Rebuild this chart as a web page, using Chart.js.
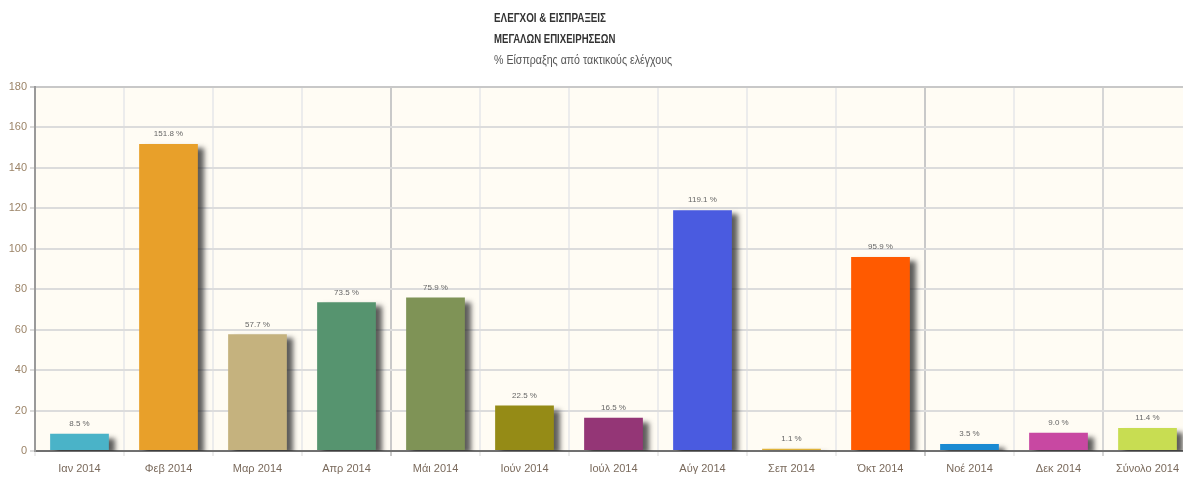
<!DOCTYPE html>
<html>
<head>
<meta charset="utf-8">
<script src="https://cdn.jsdelivr.net/npm/chart.js@4"></script>
<style>
  html,body{margin:0;padding:0;background:#ffffff;overflow:hidden;}
  #wrap{position:relative;width:1192px;height:479px;}
  .t{position:absolute;left:494px;font-family:'Liberation Sans',Arial,sans-serif;white-space:nowrap;transform-origin:0 0;}
  .t1{top:11px;font-size:12px;font-weight:bold;color:#333;transform:scaleX(0.82);}
  .t2{top:32px;font-size:12px;font-weight:bold;color:#333;transform:scaleX(0.80);}
  .t3{top:53px;font-size:12px;color:#555;transform:scaleX(0.885);}
</style>
</head>
<body>
<div id="wrap">
  <div class="t t1">ΕΛΕΓΧΟΙ &amp; ΕΙΣΠΡΑΞΕΙΣ</div>
  <div class="t t2">ΜΕΓΑΛΩΝ ΕΠΙΧΕΙΡΗΣΕΩΝ</div>
  <div class="t t3">% Είσπραξης από τακτικούς ελέγχους</div>
  <canvas id="c" width="1192" height="479"></canvas>
</div>
<script>
const categories = ['Ιαν 2014','Φεβ 2014','Μαρ 2014','Απρ 2014','Μάι 2014','Ιούν 2014','Ιούλ 2014','Αύγ 2014','Σεπ 2014','Όκτ 2014','Νοέ 2014','Δεκ 2014','Σύνολο 2014'];
const values = [8.5, 151.8, 57.7, 73.5, 75.9, 22.5, 16.5, 119.1, 1.1, 95.9, 3.5, 9.0, 11.4];
const valueLabels = ['8.5 %','151.8 %','57.7 %','73.5 %','75.9 %','22.5 %','16.5 %','119.1 %','1.1 %','95.9 %','3.5 %','9.0 %','11.4 %'];
const barColors = ['#4ab3c8','#e8a02a','#c5b27e','#56946f','#7f9356','#958b16','#943676','#4a5be0','#e0b33a','#ff5a00','#1a8ad2','#c848a2','#c8dd52'];
const yTicks = [0,20,40,60,80,100,120,140,160,180];

const FONT = "'Liberation Sans',Arial,sans-serif";

const bgPlugin = {
  id:'bg',
  beforeDraw(chart){
    const {ctx, chartArea:a} = chart;
    ctx.save();
    ctx.fillStyle = '#fffcf4';
    ctx.fillRect(a.left, a.top, a.right-a.left, a.bottom-a.top);
    ctx.restore();
  }
};
const shadowPlugin = {
  id:'shadow',
  beforeDatasetsDraw(chart){
    const ctx = chart.ctx;
    ctx.save();
    ctx.shadowColor = 'rgba(40,40,40,0.75)';
    ctx.shadowOffsetX = 6;
    ctx.shadowOffsetY = 4;
    ctx.shadowBlur = 5;
  },
  afterDatasetsDraw(chart){
    const ctx = chart.ctx;
    ctx.restore();
    const meta = chart.getDatasetMeta(0);
    ctx.save();
    ctx.font = '8px ' + FONT;
    ctx.fillStyle = '#666';
    ctx.textAlign = 'center';
    ctx.textBaseline = 'bottom';
    meta.data.forEach((el, i) => {
      ctx.fillText(valueLabels[i], el.x, el.y - 6);
    });
    ctx.restore();
  }
};

new Chart(document.getElementById('c'), {
  type:'bar',
  data:{
    labels:categories,
    datasets:[{
      data:values,
      backgroundColor:barColors,
      borderWidth:0,
      categoryPercentage:1.0,
      barPercentage:0.66
    }]
  },
  options:{
    responsive:false,
    animation:false,
    layout:{padding:{top:87,left:0,right:0,bottom:0}},
    plugins:{legend:{display:false},tooltip:{enabled:false},title:{display:false}},
    scales:{
      x:{
        offset:true,
        grid:{
          offset:true,
          drawTicks:true,
          tickLength:5,
          lineWidth:2,
          color:(c)=> (c.index===4||c.index===10) ? '#c9c9c9' : (c.index===12 ? '#d6d6d6' : '#ececec')
        },
        border:{display:true,color:'#707070',width:2},
        ticks:{font:{family:FONT,size:11},color:'#7a6a5c',padding:6,maxRotation:0,autoSkip:false},
        afterFit(s){ s.height = 28; }
      },
      y:{
        min:0,max:180,
        afterBuildTicks(s){ s.ticks = yTicks.map(v=>({value:v})); },
        grid:{color:(c)=> c.tick && c.tick.value===180 ? '#c8c8c8' : '#dcdcdc', lineWidth:2, tickLength:5, drawTicks:true},
        border:{display:true,color:'#9a9a9a',width:2},
        ticks:{font:{family:FONT,size:11},color:'#9c8468',padding:3},
        afterFit(s){ s.width = 35; }
      }
    }
  },
  plugins:[bgPlugin, shadowPlugin]
});
</script>
</body>
</html>
